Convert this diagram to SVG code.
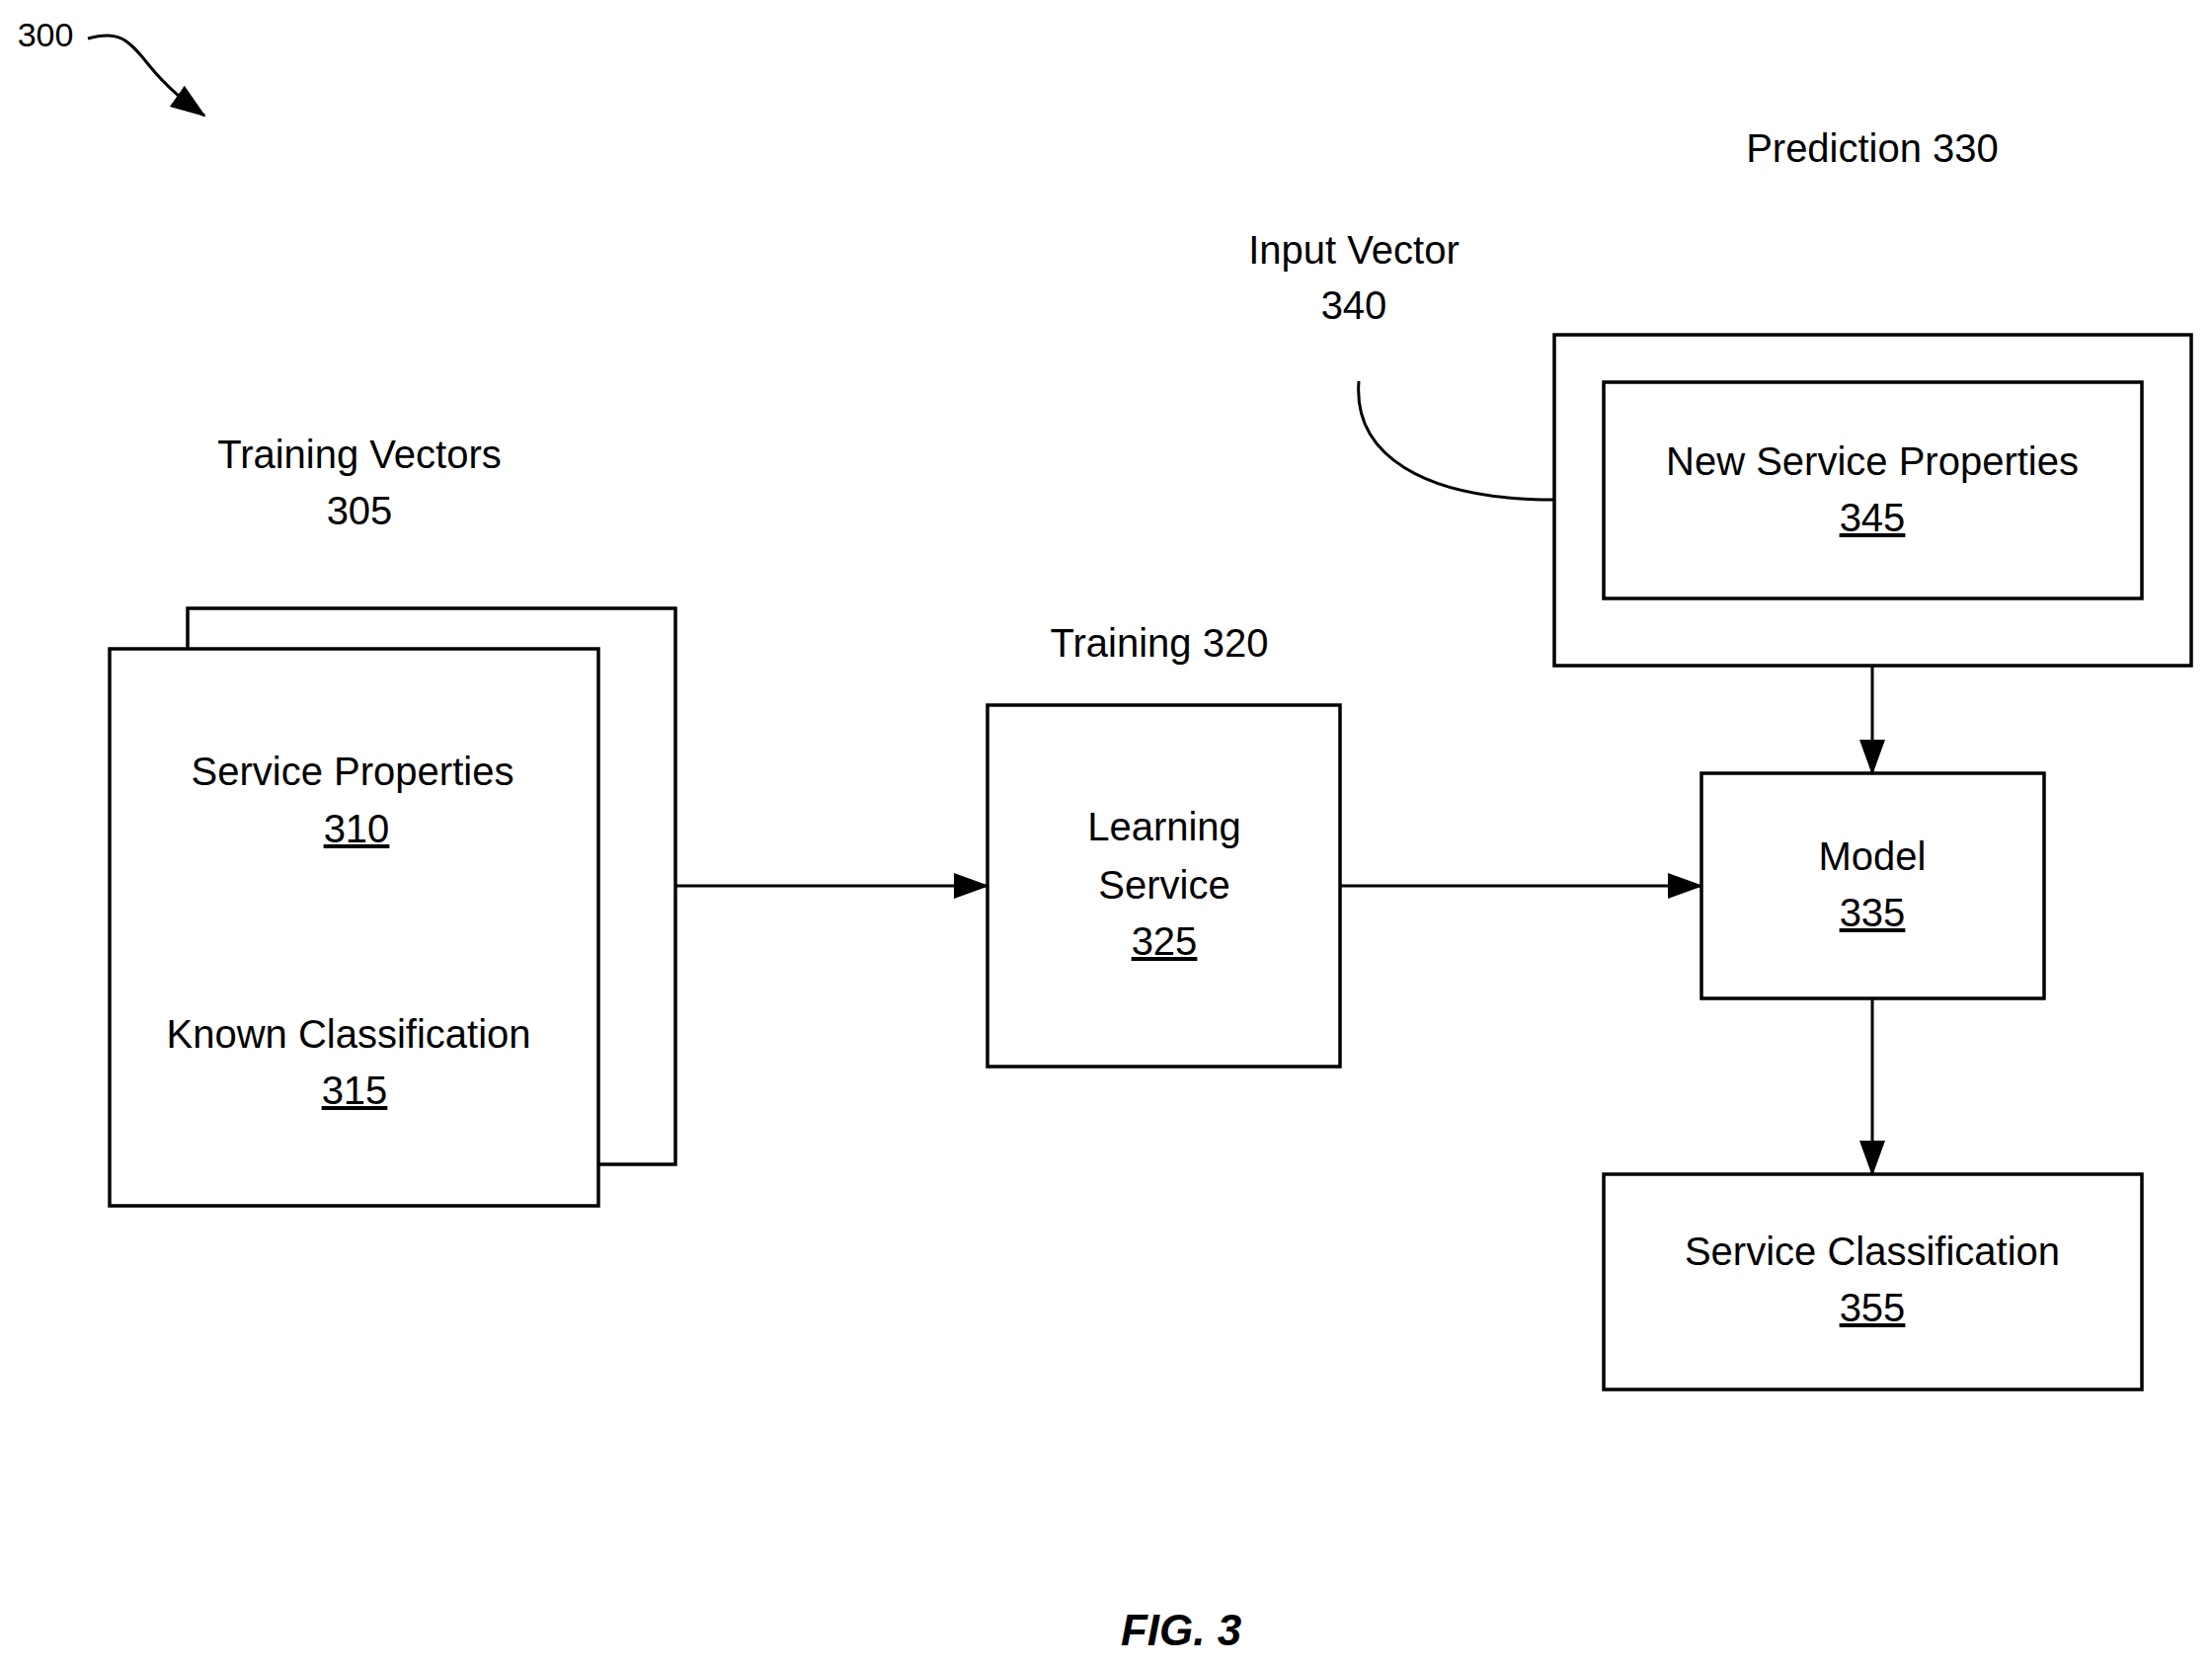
<svg xmlns="http://www.w3.org/2000/svg" width="2240" height="1688" viewBox="0 0 2240 1688">
<style>
text{font-family:"Liberation Sans",Arial,sans-serif;font-size:40px;fill:#000;text-anchor:middle}
.u{text-decoration:underline}
.b{fill:#fff;stroke:#000;stroke-width:3.5}
.c{fill:none;stroke:#000;stroke-width:3}
</style>
<defs><marker id="a" markerWidth="12" markerHeight="10" refX="11" refY="5" orient="auto" markerUnits="userSpaceOnUse"><path d="M0,0 L12,5 L0,10 z" fill="#000"/></marker>
<marker id="ab" markerWidth="36" markerHeight="26" refX="34" refY="13" orient="auto" markerUnits="userSpaceOnUse"><path d="M0,0 L36,13 L0,26 z" fill="#000"/></marker></defs>
<rect width="2240" height="1688" fill="#fff"/>
<g id="label300"><text x="46" y="47" style="font-size:34px">300</text></g>
<g id="training-vectors">
<text x="364" y="474">Training Vectors</text><text x="364" y="531">305</text>
<rect class="b" x="190" y="616" width="494" height="563"/>
<rect class="b" x="111" y="657" width="495" height="564"/>
<text x="357" y="795">Service Properties</text><text x="361" y="853" class="u">310</text>
<text x="353" y="1061">Known Classification</text><text x="359" y="1118" class="u">315</text>
</g>
<g id="training">
<text x="1174" y="665">Training 320</text>
<rect class="b" x="1000" y="714" width="357" height="366"/>
<text x="1179" y="851">Learning</text><text x="1179" y="910">Service</text><text x="1179" y="967" class="u">325</text>
</g>
<g id="prediction">
<text x="1896" y="164">Prediction 330</text>
<rect class="b" x="1574" y="339" width="645" height="335"/>
<rect class="b" x="1624" y="387" width="545" height="219"/>
<text x="1896" y="481">New Service Properties</text><text x="1896" y="538" class="u">345</text>
</g>
<g id="input-vector"><text x="1371" y="267">Input Vector</text><text x="1371" y="323">340</text></g>
<g id="model"><rect class="b" x="1723" y="783" width="347" height="228"/>
<text x="1896" y="881">Model</text><text x="1896" y="938" class="u">335</text></g>
<g id="service-classification"><rect class="b" x="1624" y="1189" width="545" height="218"/>
<text x="1896" y="1281">Service Classification</text><text x="1896" y="1338" class="u">355</text></g>
<g id="fig"><text x="1196" y="1666" style="font-weight:bold;font-style:italic;font-size:44px">FIG. 3</text></g>
<g id="connectors">
<path class="c" d="M89,39 C120,30 130,40 150,65 C170,90 190,105 207,117" marker-end="url(#ab)"/>
<path class="c" d="M1376,386 C1370,460 1440,506 1574,506"/>
<line class="c" x1="684" y1="897" x2="1000" y2="897" marker-end="url(#ab)"/>
<line class="c" x1="1357" y1="897" x2="1723" y2="897" marker-end="url(#ab)"/>
<line class="c" x1="1896" y1="674" x2="1896" y2="783" marker-end="url(#ab)"/>
<line class="c" x1="1896" y1="1011" x2="1896" y2="1189" marker-end="url(#ab)"/>
</g>
</svg>
